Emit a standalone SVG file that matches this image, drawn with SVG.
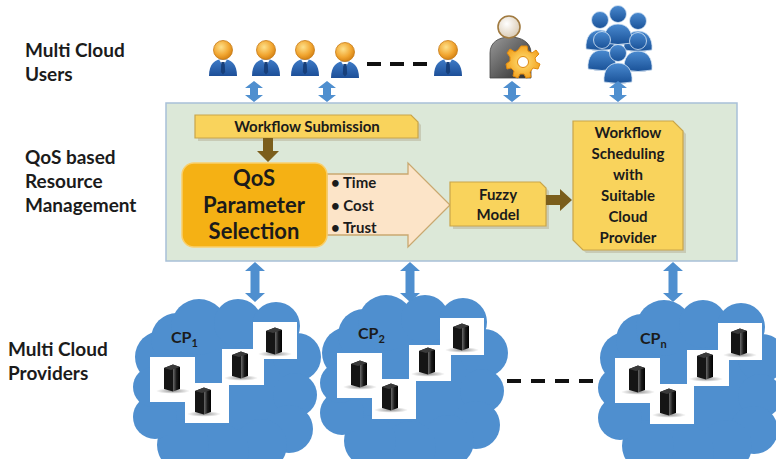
<svg xmlns="http://www.w3.org/2000/svg" width="776" height="459" viewBox="0 0 776 459">
  <style>
    text { font-family: Lato, "Liberation Sans", sans-serif; font-weight: 700; fill: #1b1b1b; }
    .side { font-size: 19px; }
    .box { font-size: 15px; text-anchor: middle; }
    .big { font-size: 22px; text-anchor: middle; }
    .bul { font-size: 15px; }
    .cp { font-size: 16px; }
    .dbl { fill: #4f8fcf; }
    .brown { fill: #7b5e1c; }
    .yel { fill: #f9d35c; stroke: #c9a54a; stroke-width: 1.2; }
    .shade { fill: #b8b39a; opacity: 0.55; }
    .sq { fill: #ffffff; }
  </style>
  <defs>
    <radialGradient id="headOrange" cx="0.4" cy="0.35" r="0.7">
      <stop offset="0" stop-color="#fde08a"/>
      <stop offset="0.6" stop-color="#f2a732"/>
      <stop offset="1" stop-color="#d07d10"/>
    </radialGradient>
    <linearGradient id="suitBlue" x1="0" y1="0" x2="0" y2="1">
      <stop offset="0" stop-color="#3f7cc8"/>
      <stop offset="1" stop-color="#1d4f98"/>
    </linearGradient>
    <linearGradient id="crowdBlue" x1="0" y1="0" x2="0" y2="1">
      <stop offset="0" stop-color="#4a8ad0"/>
      <stop offset="1" stop-color="#1a5298"/>
    </linearGradient>
    <linearGradient id="greyBody" x1="0" y1="0" x2="1" y2="1">
      <stop offset="0" stop-color="#9a9a9a"/>
      <stop offset="1" stop-color="#2a2a2a"/>
    </linearGradient>
    <radialGradient id="paleHead" cx="0.4" cy="0.35" r="0.7">
      <stop offset="0" stop-color="#ffffff"/>
      <stop offset="1" stop-color="#d8c8b0"/>
    </radialGradient>
    <radialGradient id="gearFill" cx="0.5" cy="0.5" r="0.6">
      <stop offset="0" stop-color="#ffe27a"/>
      <stop offset="1" stop-color="#f29a12"/>
    </radialGradient>
    <linearGradient id="towerSide" x1="0" y1="0" x2="1" y2="0">
      <stop offset="0" stop-color="#6a6a6a"/>
      <stop offset="0.5" stop-color="#1a1a1a"/>
      <stop offset="1" stop-color="#000000"/>
    </linearGradient>
    <radialGradient id="floorShadow" cx="0.5" cy="0.5" r="0.5">
      <stop offset="0" stop-color="#777" stop-opacity="0.8"/>
      <stop offset="1" stop-color="#777" stop-opacity="0"/>
    </radialGradient>

    <!-- single user: suited figure with orange head -->
    <g id="user">
      <path d="M-14,26 C-14,14 -8,9 0,9 C8,9 14,14 14,26 Z" fill="url(#suitBlue)"/>
      <path d="M-4,9.5 L0,16 L4,9.5 Z" fill="#ffffff"/>
      <path d="M-1.6,12 L1.6,12 L2.2,22 L0,24.5 L-2.2,22 Z" fill="#173f7a"/>
      <circle cx="0" cy="0" r="9.5" fill="url(#headOrange)" stroke="#c67a14" stroke-width="0.8"/>
    </g>

    <!-- crowd member -->
    <g id="member">
      <path d="M-14,29 C-15,17 -9,10 0,10 C9,10 15,17 14,29 Q0,32 -14,29 Z" fill="url(#crowdBlue)" stroke="#dbe8f6" stroke-width="0.8"/>
      <circle cx="0" cy="0" r="8.5" fill="url(#crowdBlue)" stroke="#dbe8f6" stroke-width="0.8"/>
    </g>

    <!-- server tower -->
    <g id="srv">
      <ellipse cx="1" cy="13" rx="17" ry="2.8" fill="url(#floorShadow)"/>
      <path d="M-8,-10 L1,-13.5 L1,13.5 L-8,11 Z" fill="#151515"/>
      <path d="M1,-13.5 L8,-11 L8,11 L1,13.5 Z" fill="url(#towerSide)"/>
      <path d="M-8,-10 L1,-13.5 L8,-11 L-1,-8 Z" fill="#3a3a3a"/>
    </g>

    <!-- cloud outline built from overlapping lobes -->
    <g id="cloud" fill="#4f8fcf">
      <ellipse cx="92" cy="92" rx="80" ry="62"/>
      <circle cx="26" cy="62" r="26"/>
      <circle cx="42" cy="44" r="26"/>
      <circle cx="64" cy="32" r="28"/>
      <circle cx="103" cy="28" r="24"/>
      <circle cx="141" cy="31" r="24"/>
      <circle cx="162" cy="62" r="24"/>
      <circle cx="160" cy="100" r="22"/>
      <circle cx="154" cy="134" r="24"/>
      <circle cx="126" cy="150" r="26"/>
      <circle cx="88" cy="156" r="26"/>
      <circle cx="48" cy="150" r="26"/>
      <circle cx="20" cy="122" r="22"/>
      <circle cx="18" cy="92" r="20"/>
    </g>

    <!-- server cluster shown inside each cloud -->
    <g id="rack">
      <rect class="sq" x="15" y="62" width="45" height="45"/>
      <rect class="sq" x="50" y="88" width="44" height="40"/>
      <rect class="sq" x="87" y="54" width="42" height="36"/>
      <rect class="sq" x="118" y="27" width="44" height="37"/>
      <use href="#srv" x="37" y="83"/>
      <use href="#srv" x="68" y="106"/>
      <use href="#srv" x="105" y="70"/>
      <use href="#srv" x="139" y="46"/>
    </g>

    <!-- two-headed vertical arrows -->
    <path id="dblShort" d="M0,0 L9,7 L4,7 L4,14 L9,14 L0,21 L-9,14 L-4,14 L-4,7 L-9,7 Z"/>
    <path id="dblLong" d="M0,0 L10,9 L4.5,9 L4.5,31 L10,31 L0,40 L-10,31 L-4.5,31 L-4.5,9 L-10,9 Z"/>
  </defs>

  <rect width="776" height="459" fill="#ffffff"/>

  <!-- side captions -->
  <g id="captions">
    <text class="side" x="25" y="57">Multi Cloud</text>
    <text class="side" x="25" y="81">Users</text>
    <text class="side" x="25" y="164">QoS based</text>
    <text class="side" x="25" y="188">Resource</text>
    <text class="side" x="25" y="212">Management</text>
    <text class="side" x="8" y="356">Multi Cloud</text>
    <text class="side" x="8" y="380">Providers</text>
  </g>

  <!-- users -->
  <g id="users">
    <use href="#user" x="223" y="50"/>
    <use href="#user" x="266" y="50"/>
    <use href="#user" x="305" y="50"/>
    <use href="#user" x="345" y="52"/>
    <line x1="367" y1="64" x2="428" y2="64" stroke="#111" stroke-width="4" stroke-dasharray="14 9"/>
    <use href="#user" x="448" y="50"/>
  </g>

  <!-- administrator -->
  <g id="admin">
    <path d="M490,78 L490,53 C490,42 499,37 510,37 C521,37 531,42 531,53 L531,78 Z" fill="url(#greyBody)" stroke="#444" stroke-width="0.8"/>
    <circle cx="509" cy="27" r="11" fill="url(#paleHead)" stroke="#a07a40" stroke-width="1.6"/>
    <g transform="translate(524,61)">
      <path d="M-3,-15 L3,-15 L4,-10 L8,-8 L12,-11 L15,-7 L11,-3 L12,1 L16,3 L14,8 L9,7 L6,11 L7,16 L2,17 L0,13 L-4,13 L-6,17 L-11,15 L-10,10 L-13,7 L-17,8 L-18,3 L-14,0 L-14,-4 L-17,-8 L-14,-12 L-9,-9 L-6,-11 Z" fill="url(#gearFill)" stroke="#e08a10" stroke-width="1"/>
      <circle cx="-1" cy="1" r="5.5" fill="#ffffff" stroke="#e08a10" stroke-width="1"/>
    </g>
  </g>

  <!-- crowd -->
  <g id="crowd">
    <use href="#member" x="600" y="20"/>
    <use href="#member" x="638" y="21"/>
    <use href="#member" x="618" y="14"/>
    <use href="#member" x="602" y="40"/>
    <use href="#member" x="638" y="41"/>
    <use href="#member" x="618" y="53"/>
  </g>

  <!-- management layer -->
  <g id="layer">
    <rect x="166" y="103" width="571" height="158" fill="#dce8d8" stroke="#a8c0d8" stroke-width="1.5"/>
  </g>

  <g id="submission">
    <path class="shade" d="M198,118 H414 L421,125 V141 H198 Z"/>
    <path class="yel" d="M195,115 H411 L418,122 V138 H195 Z"/>
    <text class="box" x="307" y="132">Workflow Submission</text>
  </g>

  <g id="params">
    <path d="M327,174 H408 V163 L450,205 L408,247 V235 H327 Z" fill="#fce4c8" stroke="#c9a870" stroke-width="1.3"/>
    <text class="bul" x="331" y="188">• Time</text>
    <text class="bul" x="331" y="211">• Cost</text>
    <text class="bul" x="331" y="233">• Trust</text>
  </g>

  <g id="qos">
    <rect x="182" y="163" width="145" height="84" rx="12" fill="#f5b114" stroke="#f9cf6c" stroke-width="1.5"/>
    <text class="big" x="254" y="186">QoS</text>
    <text class="big" x="254" y="213">Parameter</text>
    <text class="big" x="254" y="239">Selection</text>
  </g>

  <g id="fuzzy">
    <path class="shade" d="M453,185 H543 L549,191 V229 H453 Z"/>
    <path class="yel" d="M450,182 H540 L546,188 V226 H450 Z"/>
    <text class="box" x="498" y="200">Fuzzy</text>
    <text class="box" x="498" y="220">Model</text>
  </g>

  <g id="scheduling">
    <path class="shade" d="M576,124 H676 L686,134 V253 H586 L576,243 Z"/>
    <path class="yel" d="M573,121 H673 L683,131 V250 H583 L573,240 Z"/>
    <text class="box" x="628" y="138">Workflow</text>
    <text class="box" x="628" y="159">Scheduling</text>
    <text class="box" x="628" y="180">with</text>
    <text class="box" x="628" y="201">Suitable</text>
    <text class="box" x="628" y="222">Cloud</text>
    <text class="box" x="628" y="243">Provider</text>
  </g>

  <!-- providers -->
  <g id="cp1" transform="translate(135,295)">
    <use href="#cloud"/>
    <use href="#rack"/>
    <text class="cp" x="36" y="48">CP<tspan font-size="11" dy="4">1</tspan></text>
  </g>
  <g id="cp2" transform="translate(322,291)">
    <use href="#cloud"/>
    <use href="#rack"/>
    <text class="cp" x="36" y="48">CP<tspan font-size="11" dy="4">2</tspan></text>
  </g>
  <g id="cpn" transform="translate(600,296)">
    <use href="#cloud"/>
    <use href="#rack"/>
    <text class="cp" x="40" y="48">CP<tspan font-size="11" dy="4">n</tspan></text>
  </g>

  <!-- connectors -->
  <g id="connectors">
    <use class="dbl" href="#dblShort" x="254" y="81"/>
    <use class="dbl" href="#dblShort" x="327" y="81"/>
    <use class="dbl" href="#dblShort" x="512" y="81"/>
    <use class="dbl" href="#dblShort" x="618" y="81"/>
    <use class="dbl" href="#dblLong" x="255" y="262"/>
    <use class="dbl" href="#dblLong" x="410" y="262"/>
    <use class="dbl" href="#dblLong" x="673" y="262"/>
    <path class="brown" d="M263,138 H273 V151 H279 L268,162 L257,151 H263 Z"/>
    <path class="brown" d="M546,195 H560 V189 L572,200 L560,211 V205 H546 Z"/>
    <line x1="507" y1="381" x2="597" y2="381" stroke="#111" stroke-width="4" stroke-dasharray="14 10"/>
  </g>
</svg>
